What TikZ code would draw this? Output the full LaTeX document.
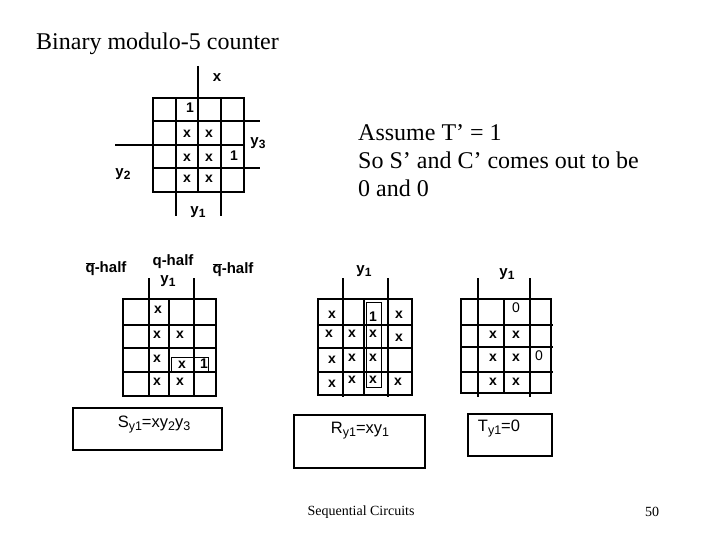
\documentclass[tikz,border=0pt]{standalone}
\usepackage{fontspec}
\setmainfont{Liberation Serif}
\setsansfont{Liberation Sans}
\usepackage{tikz}
\usetikzlibrary{positioning}
\newcommand{\qbar}{\ensuremath{\overline{\mbox{q}}}}
\newcommand{\lowsub}[1]{\raisebox{-3pt}{\fontsize{12}{12}\selectfont #1}}
\newcommand{\lowsubb}[1]{\raisebox{-3pt}{\fontsize{12.5}{12.5}\selectfont #1}}
\tikzset{
  % Karnaugh map lines
  mapline/.style={draw=black, line width=2.2pt},
  % Grouping loops
  grouploop/.style={draw=black, line width=0.8pt},
  % Equation boxes
  eqnbox/.style={draw=black, line width=1.7pt},
  % Cell entries
  cellmark/.style={font=\sffamily\bfseries\fontsize{14}{14}\selectfont, inner sep=0pt, yshift=-1pt},
  zeromark/.style={font=\sffamily\fontsize{14}{14}\selectfont, inner sep=0pt},
  % Labels around the maps
  maplabel/.style={font=\sffamily\bfseries\fontsize{15}{15}\selectfont, inner sep=0pt, align=center},
  eqnlabel/.style={font=\sffamily\fontsize{16.5}{16.5}\selectfont, inner sep=0pt},
  % Slide text
  slidetext/.style={font=\rmfamily\fontsize{24}{24}\selectfont, inner sep=0pt, anchor=west, yshift=-1.5pt},
  foottext/.style={font=\rmfamily\fontsize{14}{14}\selectfont, inner sep=0pt, yshift=-2pt},
}
\begin{document}
\begin{tikzpicture}[x=1pt, y=-1pt]
  \useasboundingbox (0,0) rectangle (720,540);

  % Slide text
  \node[slidetext] (title) at (36,42) {Binary modulo-5 counter};
  \node[slidetext] (assume) at (358,131) {Assume T’ = 1};
  \node[slidetext] (sotext) at (358,159) {So S’ and C’ comes out to be};
  \node[slidetext] (zerotext) at (358,187) {0 and 0};
  \node[foottext] (footer) at (361,510) {Sequential Circuits};
  \node[foottext] (pageno) at (652,510) {50};

  % Top map
  \draw[mapline] (153,98) rectangle (244,192);
  \draw[mapline] (198,66) -- (198,192);
  \draw[mapline] (176,98) -- (176,216);
  \draw[mapline] (221,98) -- (221,216);
  \draw[mapline] (153,121) -- (260,121);
  \draw[mapline] (115,145) -- (244,145);
  \draw[mapline] (153,168) -- (260,168);
  \node[maplabel] (topx) at (217,78) {x};
  \node[maplabel] (topyone) at (198,212) {y\lowsub{1}};
  \node[maplabel] (topytwo) at (123,174) {y\lowsub{2}};
  \node[maplabel] (topythree) at (258,143) {y\lowsub{3}};
  \node[cellmark] (ta) at (190,107) {1};
  \node[cellmark] (tb) at (187,133) {x};
  \node[cellmark] (tc) at (209,133) {x};
  \node[cellmark] (td) at (187,157) {x};
  \node[cellmark] (te) at (209,157) {x};
  \node[cellmark] (tf) at (234,155) {1};
  \node[cellmark] (tg) at (187,178) {x};
  \node[cellmark] (th) at (209,178) {x};

  % S map
  \draw[mapline] (123,299) rectangle (216,396);
  \draw[mapline] (149,278) -- (149,396);
  \draw[mapline] (169,299) -- (169,396);
  \draw[mapline] (194,278) -- (194,396);
  \draw[mapline] (123,325) -- (216,325);
  \draw[mapline] (123,348) -- (216,348);
  \draw[mapline] (123,372) -- (216,372);
  \draw[grouploop] (171,357) rectangle (208,371);
  \node[maplabel] (sleft) at (106,269) {\qbar-half};
  \node[maplabel] (smid) at (173,262) {q-half};
  \node[maplabel] (syone) at (168,281) {y\lowsub{1}};
  \node[maplabel] (sright) at (233,270) {\qbar-half};
  \node[cellmark] (sa) at (158,309) {x};
  \node[cellmark] (sb) at (157,334) {x};
  \node[cellmark] (sc) at (180,334) {x};
  \node[cellmark] (sd) at (157,358) {x};
  \node[cellmark] (se) at (182,364) {x};
  \node[cellmark] (sf) at (204,363) {1};
  \node[cellmark] (sg) at (157,381) {x};
  \node[cellmark] (sh) at (180,381) {x};
  \draw[eqnbox] (73,408) rectangle (222,450);
  \node[eqnlabel] (seqn) at (154,425) {S\lowsubb{y1}=xy\lowsubb{2}y\lowsubb{3}};

  % R map
  \draw[mapline] (318,299) rectangle (412,395);
  \draw[mapline] (343,278) -- (343,397);
  \draw[mapline] (364,299) -- (364,395);
  \draw[mapline] (388,278) -- (388,397);
  \draw[mapline] (318,325) -- (412,325);
  \draw[mapline] (318,348) -- (412,348);
  \draw[mapline] (318,372) -- (412,372);
  \draw[grouploop] (366,302) rectangle (381,387);
  \node[maplabel] (ryone) at (364,271) {y\lowsub{1}};
  \node[cellmark] (ra) at (332,314) {x};
  \node[cellmark] (rb) at (373,316) {1};
  \node[cellmark] (rc) at (399,314) {x};
  \node[cellmark] (rd) at (329,333) {x};
  \node[cellmark] (re) at (352,333) {x};
  \node[cellmark] (rf) at (373,333) {x};
  \node[cellmark] (rg) at (399,337) {x};
  \node[cellmark] (rh) at (332,359) {x};
  \node[cellmark] (ri) at (352,357) {x};
  \node[cellmark] (rj) at (373,357) {x};
  \node[cellmark] (rk) at (332,383) {x};
  \node[cellmark] (rl) at (352,379) {x};
  \node[cellmark] (rm) at (373,379) {x};
  \node[cellmark] (rn) at (398,381) {x};
  \draw[eqnbox] (294,415) rectangle (425,468);
  \node[eqnlabel] (reqn) at (360,431) {R\lowsubb{y1}=xy\lowsubb{1}};

  % T map
  \draw[mapline] (461,299) rectangle (551,393);
  \draw[mapline] (478,278) -- (478,397);
  \draw[mapline] (504,299) -- (504,393);
  \draw[mapline] (530,278) -- (530,397);
  \draw[mapline] (461,325) -- (553,325);
  \draw[mapline] (461,347) -- (553,347);
  \draw[mapline] (461,372) -- (553,372);
  \node[maplabel] (tyone) at (507,274) {y\lowsub{1}};
  \node[zeromark] (ua) at (516,308) {0};
  \node[cellmark] (ub) at (493,334) {x};
  \node[cellmark] (uc) at (516,334) {x};
  \node[cellmark] (ud) at (493,357) {x};
  \node[cellmark] (ue) at (516,357) {x};
  \node[zeromark] (uf) at (539,356) {0};
  \node[cellmark] (ug) at (493,381) {x};
  \node[cellmark] (uh) at (516,381) {x};
  \draw[eqnbox] (468,414) rectangle (552,456);
  \node[eqnlabel] (teqn) at (499,429) {T\lowsubb{y1}=0};
\end{tikzpicture}
\end{document}
